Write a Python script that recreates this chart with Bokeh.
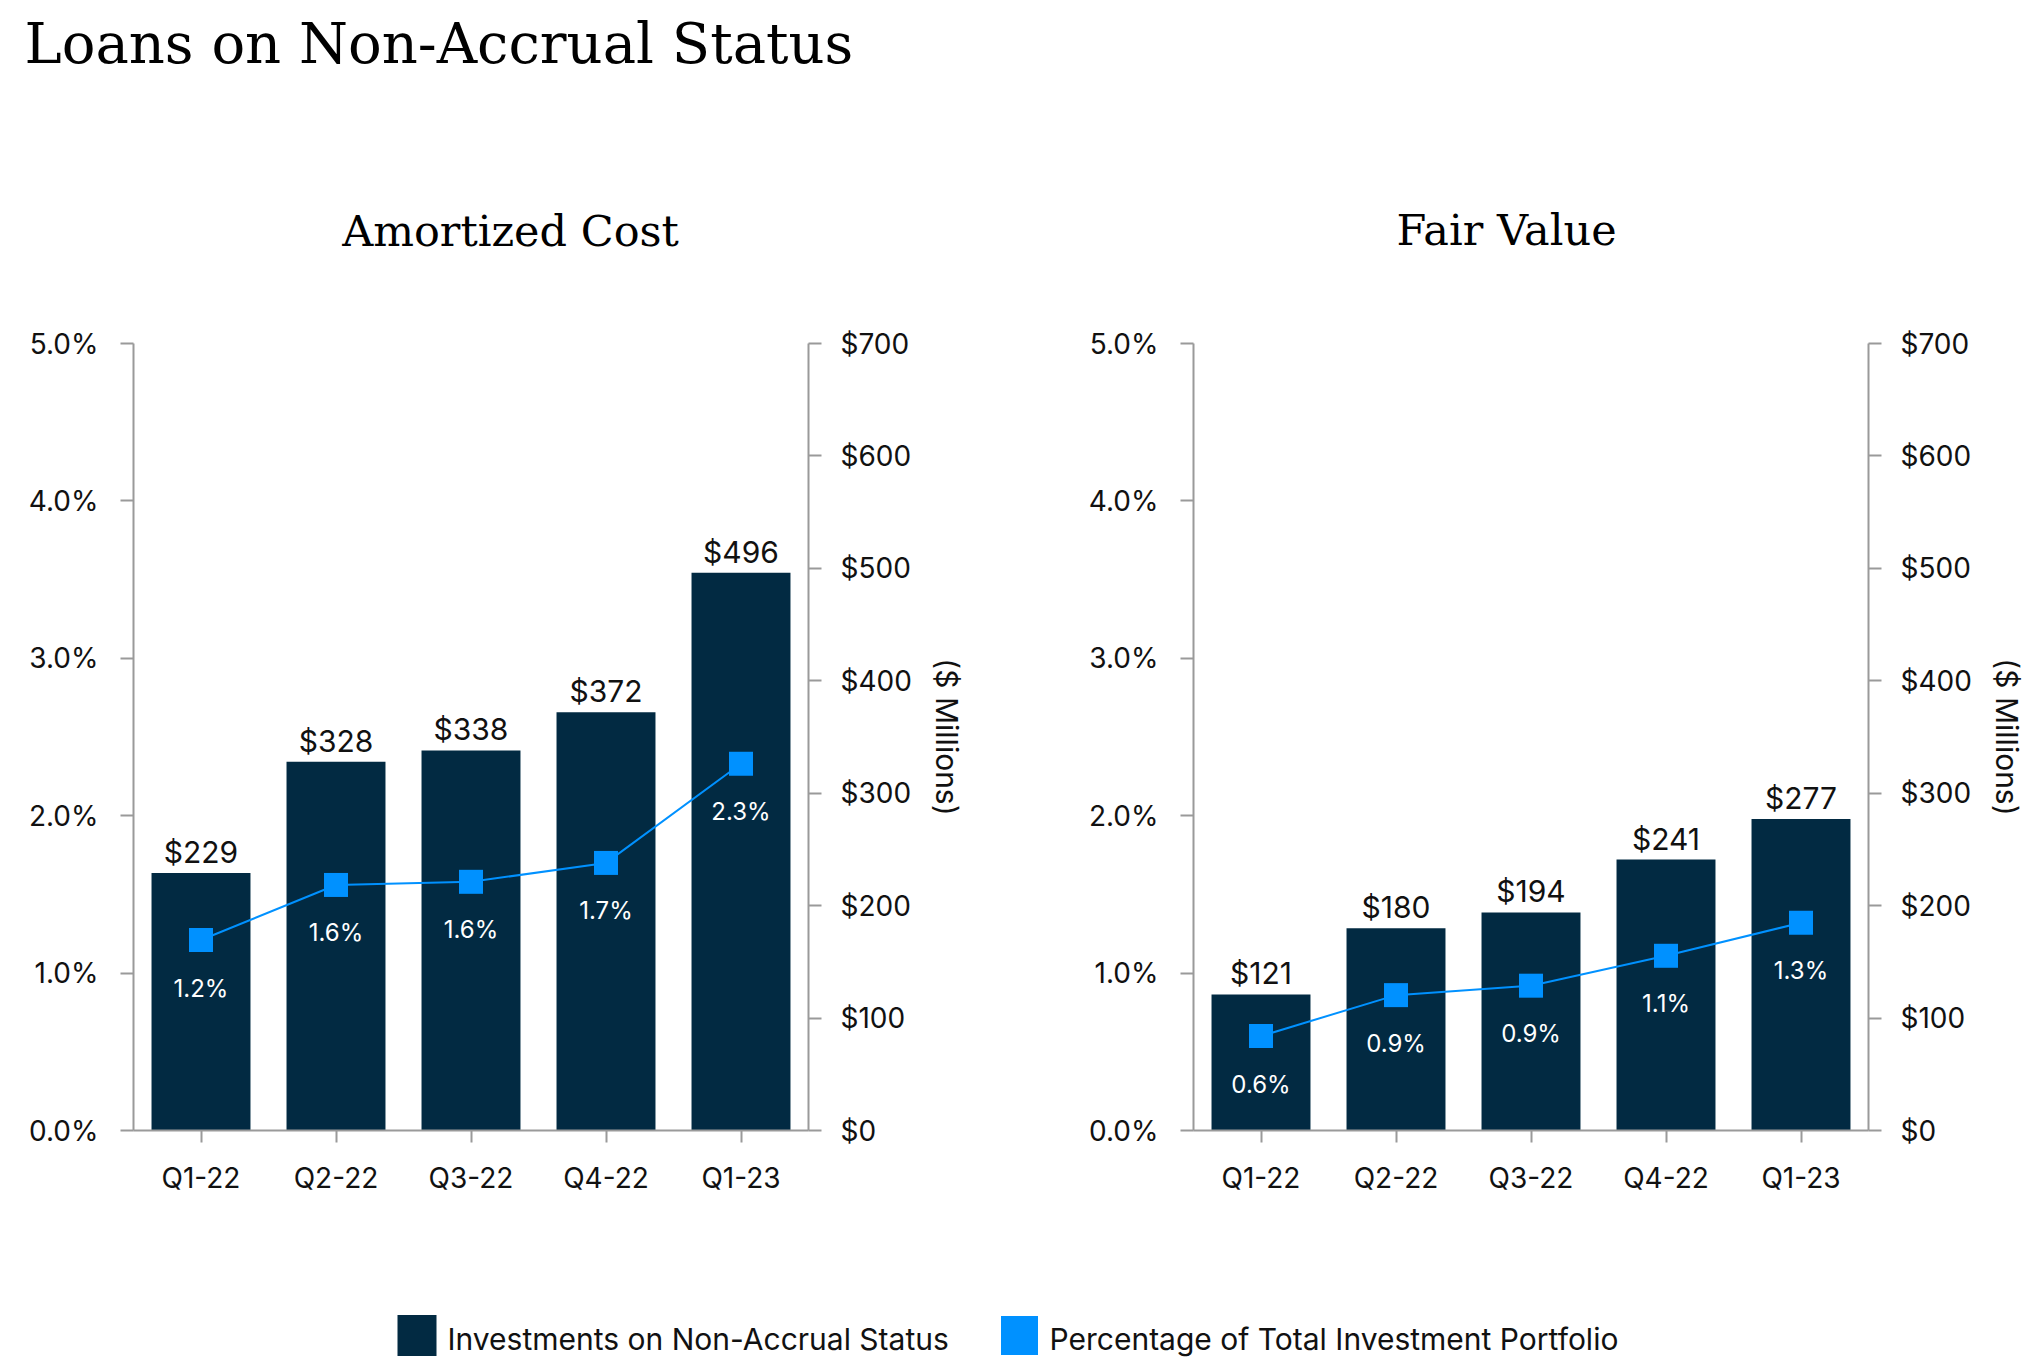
from bokeh.plotting import figure
from bokeh.layouts import column, row
from bokeh.models import (Range1d, FactorRange, LinearAxis, FixedTicker,
                          PrintfTickFormatter, ColumnDataSource)
from bokeh.core.properties import value
from bokeh.embed import file_html
from bokeh.resources import INLINE

# ---------------- data ----------------
quarters = ["Q1-22", "Q2-22", "Q3-22", "Q4-22", "Q1-23"]
amort_usd = [229, 328, 338, 372, 496]
amort_pct = [1.21, 1.56, 1.58, 1.70, 2.33]
fair_usd = [121, 180, 194, 241, 277]
fair_pct = [0.60, 0.86, 0.92, 1.11, 1.32]
pct_ticks = [0, 1, 2, 3, 4, 5]
usd_ticks = [0, 100, 200, 300, 400, 500, 600, 700]

main_title = "Loans on Non-Accrual Status"
sub_titles = ["Amortized Cost", "Fair Value"]
legend_labels = ["Investments on Non-Accrual Status",
                 "Percentage of Total Investment Portfolio"]
right_axis_label = "($ Millions)"

# ---------------- style ----------------
NAVY = "#022A42"
BLUE = "#0091FF"
GRAY = "#9A9A9A"
TXT = "#111111"
SANS = "Inter"
SERIF = "DejaVu Serif"
W = 2040
HEADER_H = 300
PANEL_H = 910
LEGEND_H = 160


def panel(usd, pct, width, bl, br, bt, bb):
    src = ColumnDataSource(dict(
        q=quarters, usd=usd, pct=pct,
        usd_lbl=[f"${v}" for v in usd],
        pct_lbl=[f"{v:.1f}%" for v in pct],
    ))
    p = figure(x_range=FactorRange(factors=quarters), y_range=Range1d(0, 5),
               width=width, height=PANEL_H, output_backend="svg",
               toolbar_location=None, min_border_left=bl, min_border_right=br,
               min_border_top=bt, min_border_bottom=bb)
    p.extra_y_ranges = {"usd": Range1d(0, 700)}
    p.outline_line_color = None
    p.grid.visible = False
    p.background_fill_color = "white"
    p.border_fill_color = "white"

    p.vbar(x="q", top="usd", width=0.733, y_range_name="usd", source=src,
           fill_color=NAVY, line_color=None)
    p.text(x="q", y="usd", text="usd_lbl", y_range_name="usd", source=src,
           y_offset=-21, text_align="center", text_baseline="middle",
           text_font=value(SANS), text_font_size="30px", text_color=TXT)
    p.line(x="q", y="pct", source=src, line_color=BLUE, line_width=2)
    p.scatter(x="q", y="pct", source=src, marker="square", size=24,
              fill_color=BLUE, line_color=None)
    p.text(x="q", y="pct", text="pct_lbl", source=src,
           y_offset=48, text_align="center", text_baseline="middle",
           text_font=value(SANS), text_font_size="24px", text_color="white")

    def style(ax):
        ax.axis_line_color = GRAY
        ax.axis_line_width = 2
        ax.major_tick_line_color = GRAY
        ax.major_tick_line_width = 2
        ax.major_tick_in = 0
        ax.major_tick_out = 13
        ax.minor_tick_line_color = None
        ax.major_label_text_font = SANS
        ax.major_label_text_font_size = "28px"
        ax.major_label_text_color = TXT

    ly = p.yaxis[0]
    ly.ticker = FixedTicker(ticks=pct_ticks)
    ly.formatter = PrintfTickFormatter(format="%.1f%%")
    style(ly)
    ly.major_label_standoff = 22

    bx = p.xaxis[0]
    style(bx)
    bx.major_tick_out = 12
    bx.major_label_standoff = 18

    ry = LinearAxis(y_range_name="usd", ticker=FixedTicker(ticks=usd_ticks),
                    formatter=PrintfTickFormatter(format="$%d"))
    style(ry)
    ry.major_label_standoff = 19
    ry.axis_label = right_axis_label
    ry.axis_label_text_font = SANS
    ry.axis_label_text_font_size = "30px"
    ry.axis_label_text_font_style = "normal"
    ry.axis_label_text_color = TXT
    ry.axis_label_standoff = 14
    p.add_layout(ry, "right")
    return p


left = panel(amort_usd, amort_pct, 1020, 133, 212, 43, 77)
right = panel(fair_usd, fair_pct, 1020, 173, 172, 40, 80)

# ---------------- header ----------------
header = figure(x_range=Range1d(0, W), y_range=Range1d(HEADER_H, 0),
                width=W, height=HEADER_H, output_backend="svg",
                toolbar_location=None, x_axis_type=None, y_axis_type=None,
                min_border=0)
header.outline_line_color = None
header.grid.visible = False
header.text(x=[24], y=[43], text=[main_title], text_font=value(SERIF),
            text_font_size="56px", text_baseline="middle",
            text_align="left", text_color="black")
header.text(x=[510, 1506], y=[230, 229], text=sub_titles, text_font=value(SERIF),
            text_font_size="43px", text_baseline="middle",
            text_align="center", text_color="black")

# ---------------- legend ----------------
leg = figure(x_range=Range1d(0, W), y_range=Range1d(LEGEND_H, 0),
             width=W, height=LEGEND_H, output_backend="svg",
             toolbar_location=None, x_axis_type=None, y_axis_type=None,
             min_border=0)
leg.outline_line_color = None
leg.grid.visible = False
leg.rect(x=[416.5, 1019], y=[125, 125], width=[39, 37], height=[41, 39],
         fill_color=[NAVY, BLUE], line_color=None)
leg.text(x=[447, 1049], y=[128, 128], text=legend_labels, text_font=value(SANS),
         text_font_size="30px", text_baseline="middle", text_align="left",
         text_color=TXT)

layout = column(header, row(left, right), leg)
open("out.html", "w").write(file_html(layout, INLINE))
